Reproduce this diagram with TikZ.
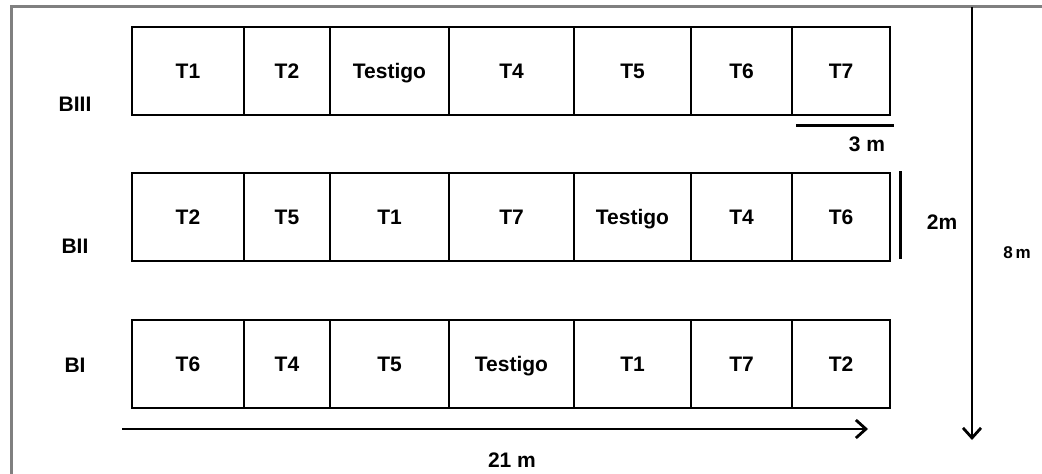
\documentclass[tikz,border=0pt]{standalone}
\usepackage{fontspec}
\setmainfont{Liberation Sans}
\usetikzlibrary{arrows.meta}
\begin{document}
\begin{tikzpicture}[x=1pt,y=-1pt,
  txt/.style={font=\fontsize{21}{24}\selectfont\bfseries,inner sep=0pt,
    text height=15pt,text depth=0pt},
  cell/.style={txt,draw=black,line width=2pt,rectangle,minimum height=88pt},
  blocklabel/.style={txt},
  dimlabel/.style={txt},
  scalebar/.style={line width=3pt},
  dimarrow/.style={line width=2.6pt,-{Straight Barb[length=10pt,width=18pt,line width=2.8pt]}},
  frameline/.style={draw=black!50,line width=3pt}]
\useasboundingbox (0,0) rectangle (1042,474);
% outer frame (left and top edges)
\draw[frameline] (11,474) -- (11,6) -- (1042,6);

% plot rows: \plotrow{name}{top y}{labels...}
\newcommand{\plotrow}[9]{%
  \foreach \xa/\xb/\lab [count=\i] in {132/244/#3,244/330/#4,330/449/#5,449/574/#6,574/691/#7,691/792/#8,792/890/#9}{
    \node[cell,minimum width={\xb-\xa}] (#1c\i) at ({(\xa+\xb)/2},{#2+44}) {\lab};
  }%
}
\plotrow{bIII}{27}{T1}{T2}{Testigo}{T4}{T5}{T6}{T7}
\plotrow{bII}{173}{T2}{T5}{T1}{T7}{Testigo}{T4}{T6}
\plotrow{bI}{320}{T6}{T4}{T5}{Testigo}{T1}{T7}{T2}

% block labels
\node[blocklabel] (lbIII) at (75,104) {BIII};
\node[blocklabel] (lbII) at (75,246) {BII};
\node[blocklabel] (lbI) at (75,365) {BI};

% 3 m scale bar under the last plot of BIII
\coordinate (s3a) at (796,125);
\coordinate (s3b) at (894,125);
\draw[scalebar] (s3a) -- (s3b);
\node[dimlabel] (l3m) at (867,144) {3 m};

% 2 m scale bar beside BII
\coordinate (s2a) at (900,171);
\coordinate (s2b) at (900,259);
\draw[scalebar] (s2a) -- (s2b);
\node[dimlabel] (l2m) at (942,222) {2m};

% 8 m total length arrow
\coordinate (a8a) at (972,7);
\coordinate (a8b) at (972,440);
\draw[dimarrow] (a8a) -- (a8b);
\node[dimlabel,font=\fontsize{17}{20}\selectfont\bfseries,text height=12pt] (l8m) at (1017,252) {8\,m};

% 21 m total width arrow
\coordinate (a21a) at (122,429);
\coordinate (a21b) at (868,429);
\draw[dimarrow] (a21a) -- (a21b);
\node[dimlabel] (l21m) at (512,460) {21 m};
\end{tikzpicture}
\end{document}
